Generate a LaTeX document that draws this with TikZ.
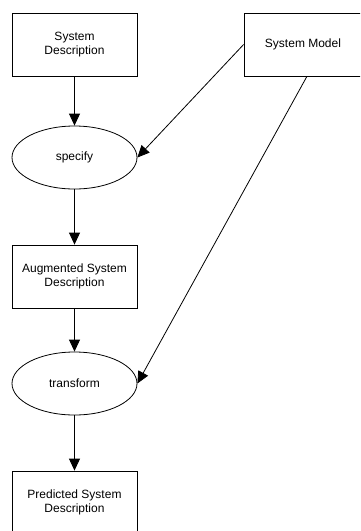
\documentclass[tikz,border=0pt]{standalone}
\usepackage{fontspec}
\setmainfont{Liberation Sans}
\usetikzlibrary{arrows.meta,shapes.geometric}
\begin{document}
\begin{tikzpicture}[x=1pt,y=-1pt,
  boxnode/.style={draw,line width=0.8pt,rectangle,minimum width=125pt,minimum height=63pt,inner sep=0pt,align=center,font=\fontsize{12}{14}\selectfont},
  ellnode/.style={draw,line width=0.8pt,ellipse,minimum width=125pt,minimum height=63pt,inner sep=0pt,align=center,font=\fontsize{12}{14}\selectfont},
  conn/.style={line width=0.8pt,-{Triangle[length=12pt,width=11pt]}}]
\useasboundingbox (0,0) rectangle (360,531);
\clip (0,0) rectangle (360,531);
\fill[white] (0,0) rectangle (360,531);
\node[boxnode] (sd) at (74.5,44.5) {System\\Description};
\node[boxnode,minimum width=118pt] (sm) at (303,44.5) {System Model};
\node[ellnode] (sp) at (74.5,157.5) {specify};
\node[boxnode] (asd) at (74.5,276.5) {Augmented System\\Description};
\node[ellnode] (tr) at (74.5,383.5) {transform};
\node[boxnode] (psd) at (74.5,502.5) {Predicted System\\Description};
\draw[conn] (sd) -- (sp);
\draw[conn] (sp) -- (asd);
\draw[conn] (asd) -- (tr);
\draw[conn] (tr) -- (psd);
\draw[conn] (sm.west) -- (sp.east);
\draw[conn] (sm.-83) -- (tr.east);
\end{tikzpicture}
\end{document}
